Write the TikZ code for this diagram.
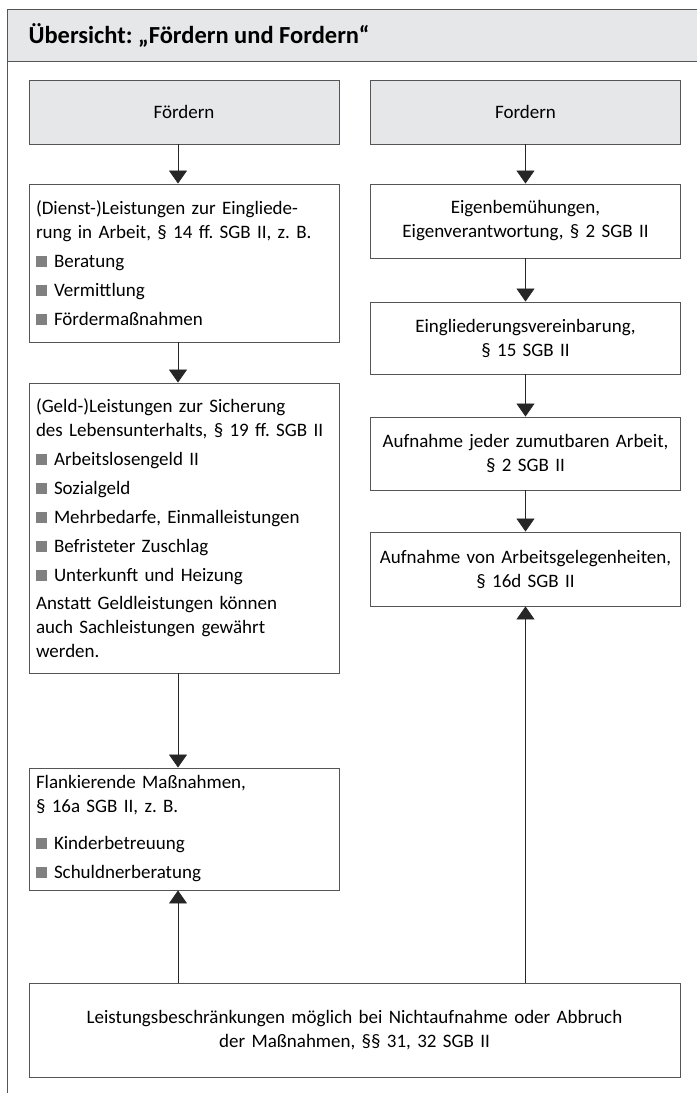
\documentclass[tikz,border=0pt]{standalone}
\usepackage{fontspec}
\setmainfont{Carlito}
\usepackage{xcolor}
\usepackage{tikz}
\usetikzlibrary{arrows.meta,positioning}
\frenchspacing

\definecolor{headgray}{RGB}{230,231,232}
\definecolor{linegray}{RGB}{85,85,85}
\definecolor{bulletgray}{RGB}{128,128,128}
\newcommand{\sqbul}{{\color{bulletgray}\rule[0.5pt]{11pt}{11pt}}\hspace{7pt}}

\begin{document}
\begin{tikzpicture}[
x=1pt, y=-1pt,
font=\fontsize{19}{24}\selectfont,
headbox/.style={draw=linegray,line width=0.9pt,fill=headgray,minimum width=310pt,minimum height=64pt,inner sep=0pt},
listbox/.style={draw=linegray,line width=0.9pt,minimum width=310pt,text width=296pt,inner sep=7pt,align=left},
textbox/.style={draw=linegray,line width=0.9pt,minimum width=310pt,text width=306pt,inner sep=2pt,align=center},
flow/.style={-{Triangle[width=18pt,length=13pt]},line width=0.8pt,draw=black!85}
]
    \useasboundingbox (0,0) rectangle (697,1093);

    % Draw frame and header
    \fill [headgray] (7,9) rectangle (697,61);
    \draw [linegray,line width=0.9pt] (697,9) -- (7,9) -- (7,1093);
    \draw [linegray,line width=0.9pt] (7,61) -- (697,61);
    \node [anchor=west,font=\bfseries\fontsize{24.5}{28}\selectfont] (title) at (25,35)
        {Übersicht: „Fördern und Fordern“};

    % left column
    \node [headbox] (foerdern) at (184,112) {Fördern};
    \node [listbox,minimum height=158pt] (dienst) at (184,263)
        {(Dienst-)Leistungen zur Eingliede-\\rung in Arbeit, § 14 ff. SGB II, z. B.\\[5pt]
         \sqbul Beratung\\[5pt]\sqbul Vermittlung\\[5pt]\sqbul Fördermaßnahmen};
    \node [listbox,minimum height=290pt] (geld) at (184,528)
        {(Geld-)Leistungen zur Sicherung\\des Lebensunterhalts, § 19 ff. SGB II\\[5pt]
         \sqbul Arbeitslosengeld II\\[5pt]\sqbul Sozialgeld\\[5pt]
         \sqbul Mehrbedarfe, Einmalleistungen\\[5pt]\sqbul Befristeter Zuschlag\\[5pt]
         \sqbul Unterkunft und Heizung\\[4pt]
         Anstatt Geldleistungen können\\auch Sachleistungen gewährt\\werden.};
    \node [listbox,minimum height=122pt] (flank) at (184,829)
        {Flankierende Maßnahmen,\\§ 16a SGB II, z. B.\\[13pt]
         \sqbul Kinderbetreuung\\[5pt]\sqbul Schuldnerberatung};

    % right column
    \node [headbox] (fordern) at (525.5,112) {Fordern};
    \node [textbox,minimum height=74pt] (eigen) at (525.5,221)
        {Eigenbemühungen,\\Eigenverantwortung, § 2 SGB II};
    \node [textbox,minimum height=72pt] (eingl) at (525.5,338)
        {Eingliederungsvereinbarung,\\§ 15 SGB II};
    \node [textbox,minimum height=73pt] (aufjeder) at (525.5,453.5)
        {Aufnahme jeder zumutbaren Arbeit,\\§ 2 SGB II};
    \node [textbox,minimum height=74pt] (aufvon) at (525.5,569)
        {Aufnahme von Arbeitsgelegenheiten,\\§ 16d SGB II};

    \node [textbox,minimum width=651pt,text width=647pt,minimum height=94pt] (sanktion) at (354.5,1030)
        {Leistungsbeschränkungen möglich bei Nichtaufnahme oder Abbruch\\der Maßnahmen, §§ 31, 32 SGB II};

    % arrows
    \coordinate (lup) at ([xshift=-6pt]flank.south);
    \draw [flow] ([xshift=-6pt]foerdern.south) -- ([xshift=-6pt]dienst.north);
    \draw [flow] ([xshift=-6pt]dienst.south) -- ([xshift=-6pt]geld.north);
    \draw [flow] ([xshift=-6pt]geld.south) -- ([xshift=-6pt]flank.north);
    \draw [flow] (sanktion.north -| lup) -- (lup);

    \draw [flow] (fordern) -- (eigen);
    \draw [flow] (eigen) -- (eingl);
    \draw [flow] (eingl) -- (aufjeder);
    \draw [flow] (aufjeder) -- (aufvon);
    \draw [flow] (sanktion.north -| aufvon.south) -- (aufvon.south);

\end{tikzpicture}
\end{document}
